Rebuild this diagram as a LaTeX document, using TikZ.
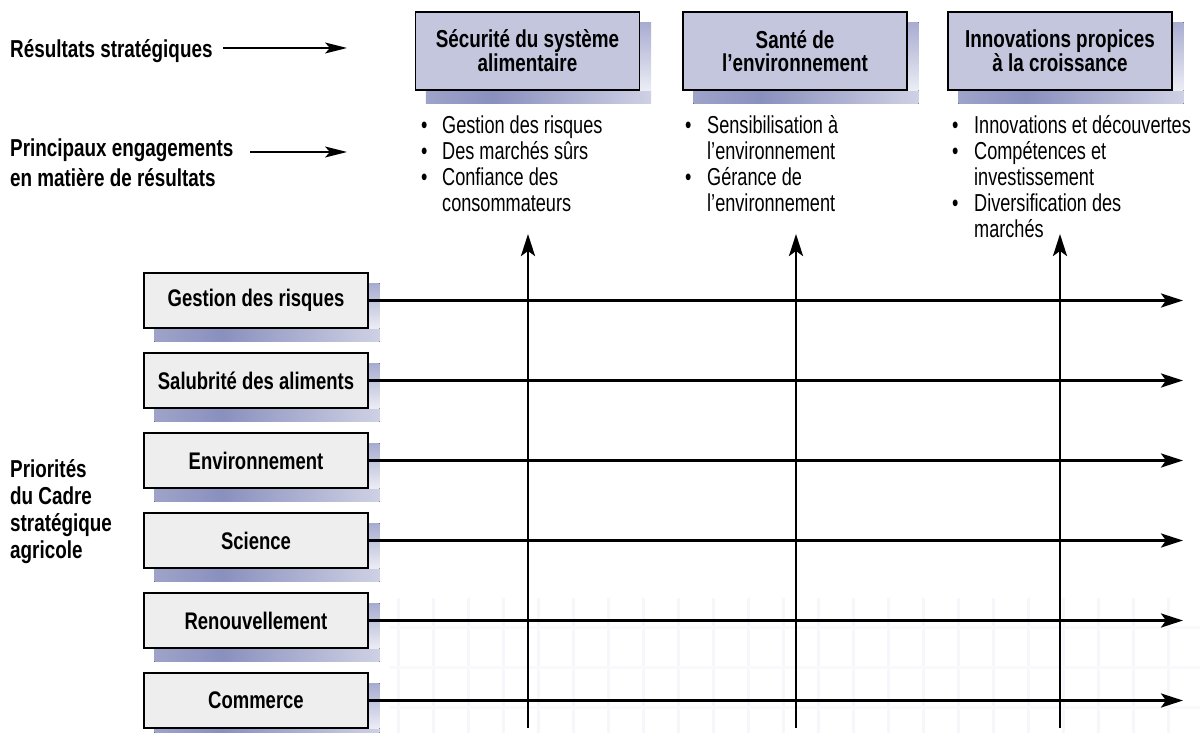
\documentclass[tikz,border=0pt]{standalone}
\usepackage{fontspec}
\setmainfont{Liberation Sans}
\newfontfamily\condrm[FakeStretch=0.74]{Liberation Sans}
\newfontfamily\condbf[FakeStretch=0.77]{Liberation Sans}
\usetikzlibrary{arrows.meta}
\pgfdeclarelayer{background}
\pgfdeclarelayer{grid}
\pgfsetlayers{grid,background,main}
\definecolor{topfill}{RGB}{196,198,222}
\definecolor{leftfill}{RGB}{238,238,238}
\definecolor{shdA}{RGB}{192,195,220}
\definecolor{shdB}{RGB}{138,144,190}
\definecolor{shdC}{RGB}{168,172,208}
\definecolor{shdD}{RGB}{236,237,245}
\definecolor{gridc}{RGB}{247,247,251}
\definecolor{gridh}{RGB}{249,249,252}
\pgfdeclarehorizontalshading{shadowh}{100bp}{color(0bp)=(shdA); color(40bp)=(shdB); color(100bp)=(white)}
\newcommand\dropshadow[1]{%
  \fill[shading=shadowh] ([xshift=11pt]#1.south west) rectangle ([xshift=11pt,yshift=-13pt]#1.south east);
  \fill[top color=shdC, bottom color=shdD] ([yshift=-11pt]#1.north east) rectangle ([xshift=11pt]#1.south east);
}
\begin{document}
\begin{tikzpicture}[x=1pt,y=-1pt,
  lbl/.style={inner sep=0pt, font=\condbf\bfseries\fontsize{24.5}{30}\selectfont},
  lblb/.style={inner sep=0pt, font=\condbf\bfseries\fontsize{24.5}{27}\selectfont},
  listtxt/.style={inner sep=0pt, font=\condrm\fontsize{24.5}{26}\selectfont},
  topbox/.style={draw, line width=1.2pt, fill=topfill, minimum width=224pt, minimum height=78pt,
    align=center, inner sep=2pt, font=\condbf\bfseries\fontsize{24.5}{22.5}\selectfont},
  prio/.style={draw, line width=1.2pt, fill=leftfill, minimum width=224pt, minimum height=55pt,
    inner sep=2pt, font=\condbf\bfseries\fontsize{24}{22}\selectfont},
  mainarrow/.style={line width=2.8pt, -{Stealth[length=22pt,width=14pt,inset=5pt]}},
  thinarrow/.style={line width=1.4pt, -{Stealth[length=22pt,width=11pt,inset=5pt]}},
  gridline/.style={gridc, line width=3pt},
  gridlineh/.style={gridh, line width=3pt}]
\useasboundingbox (0,0) rectangle (1200,733);

% faint background grid
\begin{pgfonlayer}{grid}
\foreach \x in {398,433,...,1200} \draw[gridline] (\x,598) -- (\x,733);
\foreach \y in {627,667,707} \draw[gridlineh] (390,\y) -- (1200,\y);
\end{pgfonlayer}

% left labels
\node[lbl, anchor=base west] (rs) at (10,58) {Résultats stratégiques};
\node[lbl, anchor=base west] (pe) at (10,157) {\begin{tabular}[t]{@{}l@{}}Principaux engagements\\en matière de résultats\end{tabular}};
\node[lblb, anchor=base west] (pr) at (10,477) {\begin{tabular}[t]{@{}l@{}}Priorités\\du Cadre\\stratégique\\agricole\end{tabular}};
\coordinate (rsA) at (223,48);
\coordinate (rsB) at (347,48);
\coordinate (peA) at (250,152);
\coordinate (peB) at (347,152);
\draw[thinarrow] (rsA) -- (rsB);
\draw[thinarrow] (peA) -- (peB);

% strategic outcome boxes
\node[topbox] (t1) at (527.5,51) {Sécurité du système\\alimentaire};
\node[topbox] (t2) at (795,51) {Santé de\\l’environnement};
\node[topbox] (t3) at (1060,51) {Innovations propices\\à la croissance};

% commitments
\node[listtxt, anchor=base west] (L1) at (421,134) {\begin{tabular}[t]{@{}p{21pt}@{}l@{}}•&Gestion des risques\\•&Des marchés sûrs\\•&Confiance des\\&consommateurs\end{tabular}};
\node[listtxt, anchor=base west] (L2) at (685,134) {\begin{tabular}[t]{@{}p{22pt}@{}l@{}}•&Sensibilisation à\\&l’environnement\\•&Gérance de\\&l’environnement\end{tabular}};
\node[listtxt, anchor=base west] (L3) at (952,134) {\begin{tabular}[t]{@{}p{22pt}@{}l@{}}•&Innovations et découvertes\\•&Compétences et\\&investissement\\•&Diversification des\\&marchés\end{tabular}};

% priority boxes
\node[prio] (p1) at (256,300.5) {Gestion des risques};
\node[prio] (p2) at (256,380.5) {Salubrité des aliments};
\node[prio] (p3) at (256,460.5) {Environnement};
\node[prio] (p4) at (256,540.5) {Science};
\node[prio] (p5) at (256,620.5) {Renouvellement};
\node[prio] (p6) at (256,700.5) {Commerce};

\begin{pgfonlayer}{background}
\foreach \n in {t1,t2,t3,p1,p2,p3,p4,p5,p6} {\dropshadow{\n}}
\end{pgfonlayer}

% vertical arrows
\coordinate (v1b) at (528,728);  \coordinate (v1t) at (528,234);
\coordinate (v2b) at (796,728);  \coordinate (v2t) at (796,234);
\coordinate (v3b) at (1060,728); \coordinate (v3t) at (1060,234);
\draw[mainarrow] (v1b) -- (v1t);
\draw[mainarrow] (v2b) -- (v2t);
\draw[mainarrow] (v3b) -- (v3t);

% horizontal arrows
\foreach \i in {1,...,6} {
  \coordinate (h\i) at (1183,220.5+80*\i);
  \draw[mainarrow] (p\i.east) -- (h\i);
}
\end{tikzpicture}
\end{document}
